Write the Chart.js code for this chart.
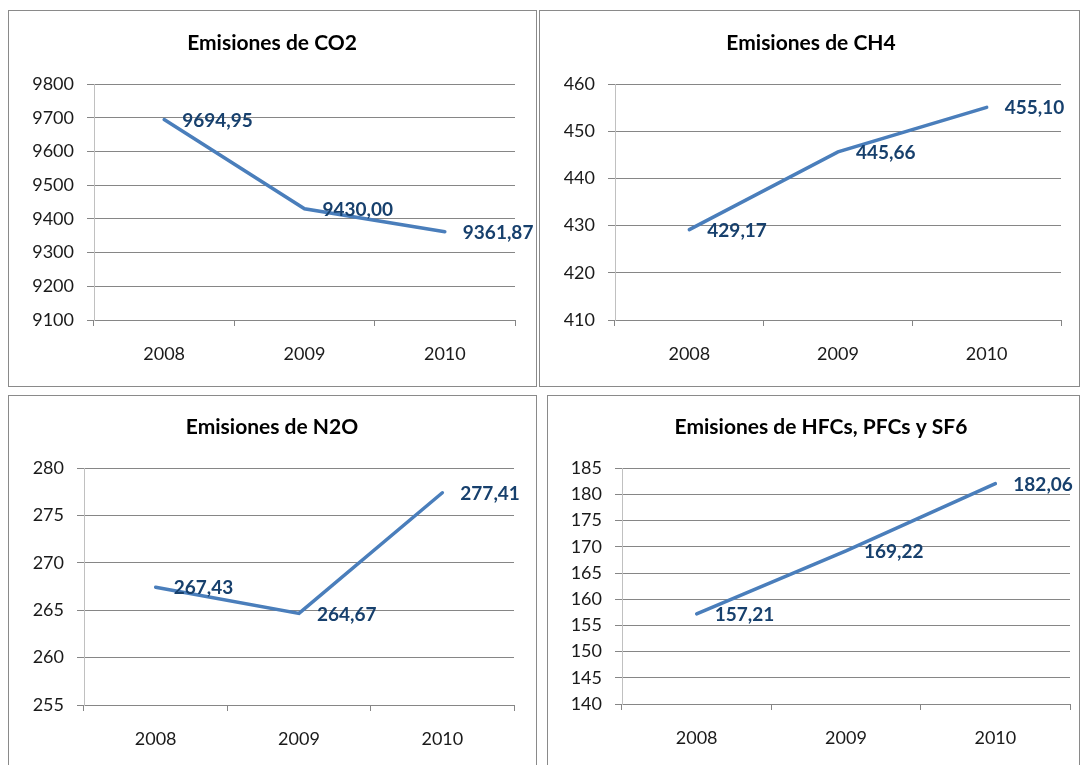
<!DOCTYPE html>
<html>
<head>
<meta charset="utf-8">
<script src="https://cdn.jsdelivr.net/npm/chart.js@4"></script>
<style>
html, body { margin: 0; padding: 0; background: #fff; overflow: hidden; width: 1083px; height: 765px; }
.panel { position: absolute; border: 1px solid #8a8a8a; background: #fff; }
.panel canvas { display: block; }
</style>
</head>
<body>
<div class="panel" style="left:8px;top:10px"><canvas id="c1" width="527" height="375"></canvas></div>
<div class="panel" style="left:539px;top:10px"><canvas id="c2" width="539" height="375"></canvas></div>
<div class="panel" style="left:8px;top:395px"><canvas id="c3" width="527" height="375"></canvas></div>
<div class="panel" style="left:547px;top:395px"><canvas id="c4" width="531" height="375"></canvas></div>
<script>
// datos
var years = ['2008', '2009', '2010'];
var co2 = [9694.95, 9430.00, 9361.87];
var ch4 = [429.17, 445.66, 455.10];
var n2o = [267.43, 264.67, 277.41];
var hfc = [157.21, 169.22, 182.06];

// min, max, paso del eje Y
var co2Axis = [9100, 9800, 100];
var ch4Axis = [410, 460, 10];
var n2oAxis = [255, 280, 5];
var hfcAxis = [140, 185, 5];

Chart.defaults.font.family = 'Lato';
Chart.defaults.color = '#000';

var valueLabels = {
    id: 'valueLabels',
    afterDatasetsDraw: function(chart) {
        var ctx = chart.ctx;
        var meta = chart.getDatasetMeta(0);
        var vals = chart.data.datasets[0].data;
        ctx.save();
        ctx.font = 'bold 19px Lato';
        ctx.fillStyle = '#17406D';
        ctx.textAlign = 'left';
        ctx.textBaseline = 'middle';
        meta.data.forEach(function(pt, i) {
            ctx.fillText(vals[i].toFixed(2).replace('.', ','), pt.x + 18, pt.y + 1);
        });
        ctx.restore();
    }
};

function makeChart(id, title, values, axis, box) {
    var ctx = document.getElementById(id).getContext('2d');
    return new Chart(ctx, {
        type: 'line',
        data: {
            labels: years,
            datasets: [{
                data: values,
                borderColor: '#4A7EBB',
                borderWidth: 3.5,
                borderCapStyle: 'round',
                pointRadius: 0,
                tension: 0,
                fill: false
            }]
        },
        options: {
            responsive: false,
            animation: false,
            devicePixelRatio: 1,
            layout: { padding: { left: box.pl, right: box.pr, top: 0, bottom: 0 } },
            plugins: {
                legend: { display: false },
                tooltip: { enabled: false },
                title: {
                    display: true,
                    text: title,
                    color: '#000',
                    font: { size: 21, weight: 'bold', lineHeight: 1.2 },
                    padding: { top: box.tt, bottom: box.tb }
                }
            },
            scales: {
                x: {
                    offset: true,
                    grid: { offset: true, drawOnChartArea: false, drawTicks: true, tickLength: 6, color: '#868686' },
                    border: { color: '#868686' },
                    ticks: { font: { size: 18 }, color: '#1a1a1a', padding: 17, maxRotation: 0 },
                    afterFit: function(s) { s.height = box.xh; }
                },
                y: {
                    min: axis[0],
                    max: axis[1],
                    grid: { color: '#868686', drawTicks: true, tickLength: 7, tickColor: '#868686' },
                    border: { color: '#C0C0C0' },
                    ticks: {
                        stepSize: axis[2],
                        font: { size: 18 },
                        color: '#1a1a1a',
                        padding: 13,
                        callback: function(v) { return String(v); }
                    },
                    afterFit: function(s) { s.width = box.yw; }
                }
            }
        },
        plugins: [valueLabels]
    });
}

makeChart('c1', 'Emisiones de CO2', co2, co2Axis, { pl: 20, pr: 21, yw: 65, tt: 20, tb: 28, xh: 66 });
makeChart('c2', 'Emisiones de CH4', ch4, ch4Axis, { pl: 21, pr: 18, yw: 54, tt: 20, tb: 28, xh: 66 });
makeChart('c3', 'Emisiones de N2O', n2o, n2oAxis, { pl: 21, pr: 22, yw: 54, tt: 19, tb: 28, xh: 66 });
makeChart('c4', 'Emisiones de HFCs, PFCs y SF6', hfc, hfcAxis, { pl: 24, pr: 9, yw: 50, tt: 19, tb: 28, xh: 67 });
</script>
</body>
</html>
